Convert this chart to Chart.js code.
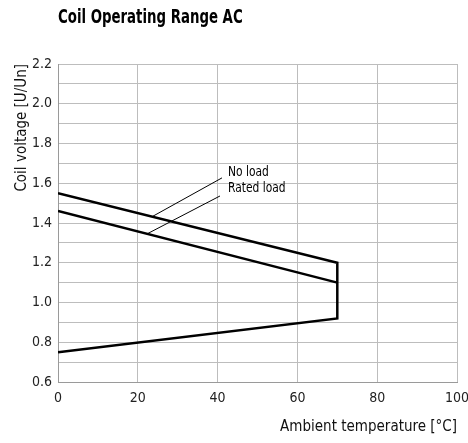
<!DOCTYPE html>
<html>
<head>
<meta charset="utf-8">
<script src="https://cdn.jsdelivr.net/npm/chart.js@4/dist/chart.umd.min.js"></script>
<style>
  html, body { margin: 0; padding: 0; background: #fff; }
  #wrap { width: 468px; height: 443px; }
</style>
</head>
<body>
<div id="wrap"><canvas id="grafico"></canvas></div>
<script>
const temperaturas = [0, 70];
const semCarga = [1.55, 1.2];      // No load
const cargaNominal = [1.46, 1.1];  // Rated load
const minimo = [0.75, 0.92];       // lower limit
const ticksX = [0, 20, 40, 60, 80, 100];
const ticksY = [0.6, 0.7, 0.8, 0.9, 1.0, 1.1, 1.2, 1.3, 1.4, 1.5, 1.6, 1.7, 1.8, 1.9, 2.0, 2.1, 2.2];

const fonte = "'Liberation Sans Narrow', 'DejaVu Sans Condensed', 'Roboto Condensed', 'Liberation Sans', sans-serif";

// contorno: linha sem carga, desce em 70 °C e volta pela linha mínima
const contorno = [
  { x: temperaturas[0], y: semCarga[0] },
  { x: temperaturas[1], y: semCarga[1] },
  { x: temperaturas[1], y: minimo[1] },
  { x: temperaturas[0], y: minimo[0] }
];
const nominal = temperaturas.map((t, i) => ({ x: t, y: cargaNominal[i] }));

// rótulos com linha de chamada (coordenadas em dados)
const rotulos = [
  { texto: "No load", de: [23.6, 1.432], ate: [41.1, 1.627], pos: [42.6, 1.657] },
  { texto: "Rated load", de: [22.3, 1.345], ate: [40.6, 1.536], pos: [42.6, 1.576] }
];

// texto um pouco mais estreito (fonte condensada)
function textoEstreito(ctx, txt, x, y, escala) {
  ctx.save();
  ctx.translate(x, y);
  ctx.scale(escala, 1);
  ctx.fillText(txt, 0, 0);
  ctx.restore();
}

const extras = {
  id: 'extras',
  afterDraw(chart) {
    const ctx = chart.ctx;
    const sx = chart.scales.x, sy = chart.scales.y;
    ctx.save();
    // título
    ctx.fillStyle = '#000';
    ctx.font = "bold 20px " + fonte;
    ctx.textBaseline = 'middle';
    ctx.textAlign = 'left';
    textoEstreito(ctx, "Coil Operating Range AC", chart.chartArea.left, 18, 0.74);
    // anotações
    ctx.strokeStyle = '#000';
    ctx.lineWidth = 1;
    ctx.font = "14px " + fonte;
    rotulos.forEach(r => {
      ctx.beginPath();
      ctx.moveTo(sx.getPixelForValue(r.de[0]), sy.getPixelForValue(r.de[1]));
      ctx.lineTo(sx.getPixelForValue(r.ate[0]), sy.getPixelForValue(r.ate[1]));
      ctx.stroke();
      textoEstreito(ctx, r.texto, sx.getPixelForValue(r.pos[0]), sy.getPixelForValue(r.pos[1]), 0.85);
    });
    ctx.restore();
  }
};

const ctx = document.getElementById('grafico').getContext('2d');
new Chart(ctx, {
  type: 'scatter',
  data: {
    datasets: [
      {
        label: 'No load',
        data: contorno,
        showLine: true,
        borderColor: '#000',
        borderWidth: 2.5,
        borderJoinStyle: 'miter',
        pointRadius: 0,
        tension: 0
      },
      {
        label: 'Rated load',
        data: nominal,
        showLine: true,
        borderColor: '#000',
        borderWidth: 2.5,
        pointRadius: 0,
        tension: 0
      }
    ]
  },
  options: {
    responsive: true,
    maintainAspectRatio: false,
    animation: false,
    layout: { padding: { left: 0, right: 11, top: 64, bottom: 0 } },
    plugins: {
      legend: { display: false },
      tooltip: { enabled: false }
    },
    scales: {
      x: {
        type: 'linear',
        min: 0,
        max: 100,
        afterBuildTicks: s => { s.ticks = ticksX.map(v => ({ value: v })); },
        afterFit: s => { s.height = 61; s.paddingLeft = 0; s.paddingRight = 0; },
        grid: { color: '#bdbdbd', drawTicks: false },
        border: { color: '#9a9a9a' },
        ticks: { padding: 8, color: '#222', font: { family: fonte, size: 14 } },
        title: {
          display: true,
          text: 'Ambient temperature [°C]',
          align: 'end',
          color: '#111',
          font: { family: fonte, size: 15 },
          padding: { top: 4, bottom: 7 }
        }
      },
      y: {
        min: 0.6,
        max: 2.2,
        afterBuildTicks: s => { s.ticks = ticksY.map(v => ({ value: v })); },
        afterFit: s => { s.width = 58; s.paddingTop = 0; s.paddingBottom = 0; },
        grid: { color: '#bdbdbd', drawTicks: false },
        border: { color: '#9a9a9a' },
        ticks: {
          padding: 6,
          color: '#222',
          font: { family: fonte, size: 14 },
          callback: v => (Math.round(v * 10) % 2 === 0 ? v.toFixed(1) : '')
        },
        title: {
          display: true,
          text: 'Coil voltage [U/Un]',
          align: 'end',
          color: '#111',
          font: { family: fonte, size: 15 },
          padding: { top: 13, bottom: 4 }
        }
      }
    }
  },
  plugins: [extras]
});
</script>
</body>
</html>
